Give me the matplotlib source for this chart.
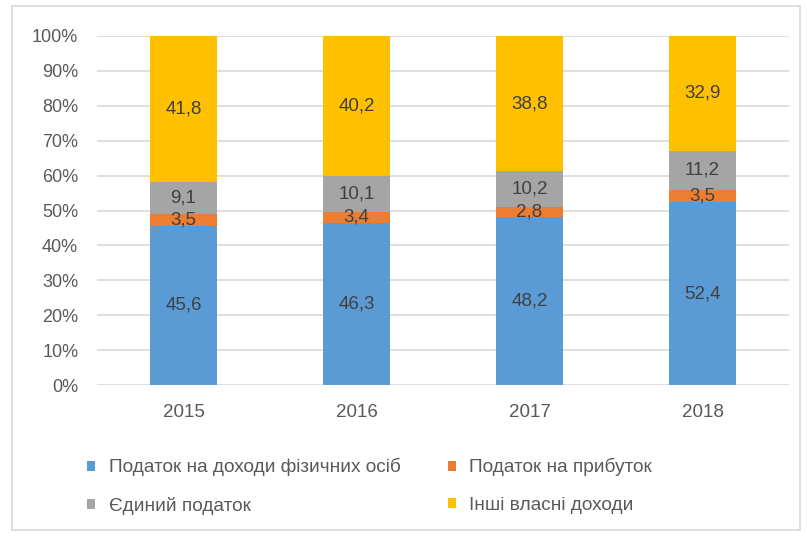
import matplotlib.pyplot as plt
import numpy as np
from matplotlib.patches import Rectangle

plt.rcParams["font.family"] = ["Liberation Sans", "DejaVu Sans"]

years = ["2015", "2016", "2017", "2018"]
pit = [45.6, 46.3, 48.2, 52.4]
profit_tax = [3.5, 3.4, 2.8, 3.5]
single_tax = [9.1, 10.1, 10.2, 11.2]
other_income = [41.8, 40.2, 38.8, 32.9]

series = [
    ("Податок на доходи фізичних осіб", pit, "#5B9BD5"),
    ("Податок на прибуток", profit_tax, "#ED7D31"),
    ("Єдиний податок", single_tax, "#A5A5A5"),
    ("Інші власні доходи", other_income, "#FFC000"),
]

fig = plt.figure(figsize=(8.07, 5.36), dpi=100)
fig.patches.append(Rectangle((12 / 807, 6 / 536), 788 / 807, 524 / 536,
                             transform=fig.transFigure, fill=False,
                             edgecolor="#D9D9D9", lw=1.2))
ax = fig.add_axes([97 / 807, 1 - 385 / 536, 692 / 807, 349 / 536])

x = np.arange(len(years))
totals = np.sum([s[1] for s in series], axis=0)
bottom = np.zeros(len(years))
handles = {}
for name, vals, color in series:
    share = np.array(vals) / totals * 100
    bars = ax.bar(x, share, 0.39, bottom=bottom, color=color, label=name, zorder=2)
    handles[name] = bars
    for xi, b, s, v in zip(x, bottom, share, vals):
        ax.text(xi, b + s / 2, f"{v:.1f}".replace(".", ","), ha="center", va="center",
                fontsize=13.5, color="#404040", zorder=3)
    bottom += share

ax.set_xlim(-0.5, 3.5)
ax.set_ylim(0, 100)
ax.set_yticks(np.arange(0, 101, 10))
ax.set_yticklabels([f"{t}%" for t in range(0, 101, 10)])
ax.set_xticks(x)
ax.set_xticklabels(years)
ax.tick_params(length=0, labelsize=13, colors="#595959")
ax.tick_params(axis="x", labelsize=13.5, pad=14)
ax.tick_params(axis="y", pad=13.5)
ax.grid(axis="y", color="#D9D9D9", lw=1.2, zorder=0)
for sp in ax.spines.values():
    sp.set_visible(False)

# two legend rows: first column is PIT / single tax, second is profit tax / other
order = [series[0][0], series[2][0], series[1][0], series[3][0]]
fig.legend([handles[n] for n in order], order, loc="upper left",
           bbox_to_anchor=(87 / 807, 1 - 458 / 536), ncol=2, frameon=False,
           fontsize=13.7, labelcolor="#595959", handlelength=0.43, handleheight=0.43,
           handletextpad=0.7, columnspacing=2.5, labelspacing=1.1,
           borderpad=0, borderaxespad=0)

fig.savefig("out.png", dpi=100)
